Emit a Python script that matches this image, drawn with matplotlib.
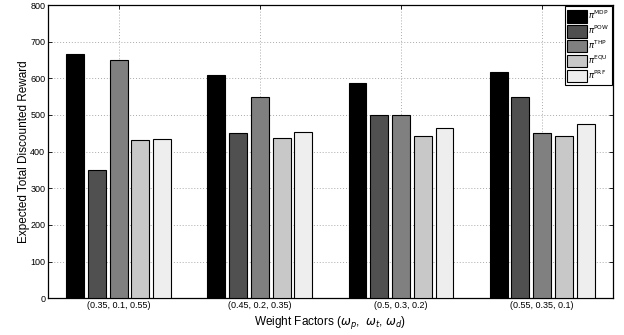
import numpy as np
import matplotlib
matplotlib.use('Agg')
from matplotlib import pyplot as plt

plt.rcParams['font.family'] = ['Liberation Sans', 'DejaVu Sans']

# weight factor settings on the x axis
groups = ['(0.35, 0.1, 0.55)', '(0.45, 0.2, 0.35)', '(0.5, 0.3, 0.2)', '(0.55, 0.35, 0.1)']

# expected total discounted reward per policy
mdp = [665, 610, 587, 617]
pow_ = [350, 450, 500, 550]
thp = [650, 550, 500, 450]
equ = [432, 437, 442, 443]
prf = [434, 453, 465, 475]

series = [mdp, pow_, thp, equ, prf]
names = [r'$\pi^{\rm MDP}$', r'$\pi^{\rm POW}$', r'$\pi^{\rm THP}$', r'$\pi^{\rm EQU}$', r'$\pi^{\rm PRF}$']
colors = ['#000000', '#505050', '#808080', '#c8c8c8', '#eeeeee']

fig = plt.figure(figsize=(6.24, 3.35), dpi=100)
ax = fig.add_axes([0.077, 0.11, 0.905, 0.875])

x = np.arange(1, len(groups) + 1)
step = 0.154
width = 0.127
for i, (vals, lab, c) in enumerate(zip(series, names, colors)):
    ax.bar(x + (i - 2) * step, vals, width, color=c, edgecolor='black', linewidth=0.8, label=lab, zorder=3)

ax.set_xlim(0.5, 4.5)
ax.set_ylim(0, 800)
ax.set_xticks(x)
ax.set_xticklabels(groups, fontsize=6.5)
ax.set_yticks(np.arange(0, 801, 100))
ax.tick_params(axis='y', labelsize=6.5)
ax.tick_params(direction='in', top=True, right=True, length=3, width=0.6, pad=2)
ax.grid(True, linestyle=(0, (1, 2)), color='#aaaaaa', linewidth=0.7, zorder=0)
for s in ax.spines.values():
    s.set_linewidth(0.9)

ax.set_xlabel(r'Weight Factors ($\omega_p$,  $\omega_t$, $\omega_d$)', fontsize=8.5, labelpad=3)
ax.set_ylabel('Expected Total Discounted Reward', fontsize=8.5, labelpad=0)

leg = ax.legend(loc='upper right', fontsize=6, handlelength=2.3, handleheight=1.9,
                labelspacing=0.12, borderpad=0.3, handletextpad=0.15, fancybox=False,
                framealpha=1, edgecolor='black', borderaxespad=0.15)
leg.get_frame().set_linewidth(0.8)

fig.savefig('out.png', dpi=100)
